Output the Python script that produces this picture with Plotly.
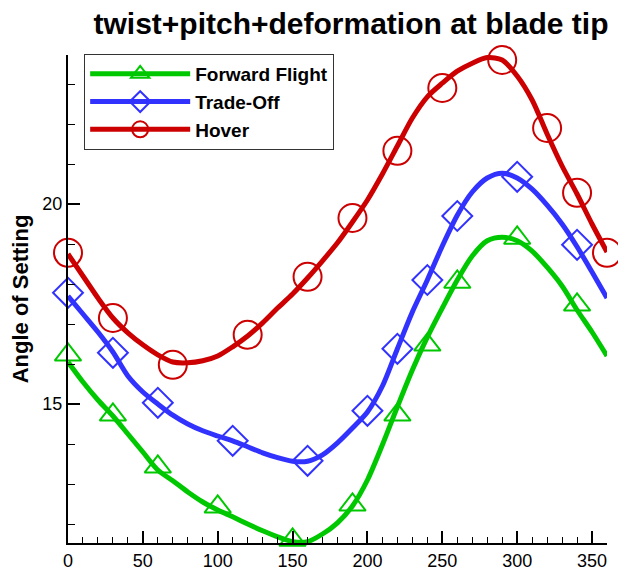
import plotly.graph_objects as go

# ---------------- data ----------------
# smooth curves, sampled every 10 degrees
line_x = [0, 10, 20, 30, 40, 50, 60, 70, 80, 90, 100, 110, 120, 130, 140, 150, 160, 170, 180,
          190, 200, 210, 220, 230, 240, 250, 260, 270, 280, 290, 300, 310, 320, 330, 340, 350, 360]
ff_line = [16.05, 15.55, 15.1, 14.7, 14.25, 13.8, 13.35, 13.08, 12.8, 12.55, 12.35, 12.18, 12.0,
           11.83, 11.68, 11.56, 11.56, 11.75, 12.03, 12.45, 13.1, 13.98, 14.93, 15.85, 16.67,
           17.4, 18.1, 18.7, 19.08, 19.17, 19.08, 18.82, 18.42, 17.95, 17.35, 16.8, 16.2]
to_line = [17.7, 17.25, 16.8, 16.3, 15.7, 15.3, 15.0, 14.72, 14.5, 14.33, 14.2, 14.08, 13.93,
           13.78, 13.66, 13.57, 13.57, 13.73, 14.03, 14.4, 14.8, 15.45, 16.38, 17.3, 18.1,
           18.95, 19.72, 20.3, 20.65, 20.77, 20.65, 20.37, 19.97, 19.5, 18.93, 18.3, 17.65]
hv_line = [18.75, 18.2, 17.65, 17.15, 16.78, 16.48, 16.23, 16.05, 16.03, 16.08, 16.2, 16.43, 16.7,
           17.03, 17.4, 17.75, 18.15, 18.58, 19.03, 19.55, 20.1, 20.75, 21.45, 22.15, 22.68,
           23.02, 23.32, 23.52, 23.66, 23.6, 23.2, 22.6, 21.75, 20.95, 20.25, 19.5, 18.8]

# symbols
ff_x = [0, 30, 60, 100, 150, 190, 220, 240, 260, 300, 340]
ff_y = [16.23, 14.73, 13.43, 12.43, 11.6, 12.48, 14.73, 16.48, 18.05, 19.15, 17.48]
to_x = [0, 30, 60, 110, 160, 200, 220, 240, 260, 300, 340]
to_y = [17.78, 16.28, 15.03, 14.08, 13.58, 14.83, 16.38, 18.1, 19.7, 20.68, 18.98]
hv_x = [0, 30, 70, 120, 160, 190, 220, 250, 290, 320, 340, 360]
hv_y = [18.78, 17.15, 15.98, 16.73, 18.18, 19.65, 21.33, 22.9, 23.6, 21.9, 20.28, 18.78]

names = ["Forward Flight", "Trade-Off", "Hover"]
colors = ["#00C800", "#3232FF", "#CC0000"]
symbols = ["triangle-up-open", "diamond-open", "circle-open"]
msizes = [23, 23, 28]

title_text = "twist+pitch+deformation at blade tip"
ytitle = "Angle of Setting"

FONT = "Liberation Sans, Arial, sans-serif"

fig = go.Figure()
lines = [ff_line, to_line, hv_line]
pts = [(ff_x, ff_y), (to_x, to_y), (hv_x, hv_y)]
for i in range(3):
    fig.add_trace(go.Scatter(x=line_x, y=lines[i], mode="lines",
                             line=dict(color=colors[i], width=5, shape="spline", smoothing=0.8),
                             showlegend=False, hoverinfo="skip"))
    fig.add_trace(go.Scatter(x=pts[i][0], y=pts[i][1], mode="markers",
                             marker=dict(symbol=symbols[i], size=msizes[i], color=colors[i],
                                         line=dict(width=2, color=colors[i])),
                             showlegend=False, cliponaxis=False))
# legend entries
for i in range(3):
    fig.add_trace(go.Scatter(x=[None], y=[None], mode="lines+markers", name="<b>" + names[i] + "</b>",
                             line=dict(color=colors[i], width=5),
                             marker=dict(symbol=symbols[i], size=msizes[i], color=colors[i],
                                         line=dict(width=2, color=colors[i]))))

fig.update_layout(
    width=618, height=570,
    margin=dict(l=68, r=11, t=55, b=27),
    paper_bgcolor="white", plot_bgcolor="white",
    font=dict(family=FONT, color="black"),
    title=dict(text="<b>" + title_text + "</b>", font=dict(size=30, family=FONT),
               xref="container", x=351 / 618, xanchor="center",
               yref="container", y=1 - 23 / 570, yanchor="middle"),
    legend=dict(x=0.03, y=1.002, xanchor="left", yanchor="top",
                bordercolor="#333333", borderwidth=1, bgcolor="white",
                font=dict(size=19, family=FONT), itemsizing="trace",
                itemwidth=100, tracegroupgap=0),
    xaxis=dict(range=[0, 360], showgrid=False, zeroline=False, automargin=False,
               showline=True, linecolor="black", linewidth=2,
               ticks="inside", ticklen=12, tickwidth=2, tickcolor="black",
               dtick=50, tick0=0, tickfont=dict(size=18),
               minor=dict(dtick=10, ticks="inside", ticklen=6, tickwidth=1, tickcolor="black")),
    yaxis=dict(range=[11.525, 23.725], showgrid=False, zeroline=False, automargin=False,
               showline=True, linecolor="black", linewidth=2,
               ticks="inside", ticklen=12, tickwidth=2, tickcolor="black",
               dtick=5, tick0=0, tickfont=dict(size=18),
               title=dict(text="<b>" + ytitle + "</b>", font=dict(size=22), standoff=8),
               minor=dict(dtick=1, ticks="inside", ticklen=7, tickwidth=1, tickcolor="black")),
)

fig.write_html("out.html")
